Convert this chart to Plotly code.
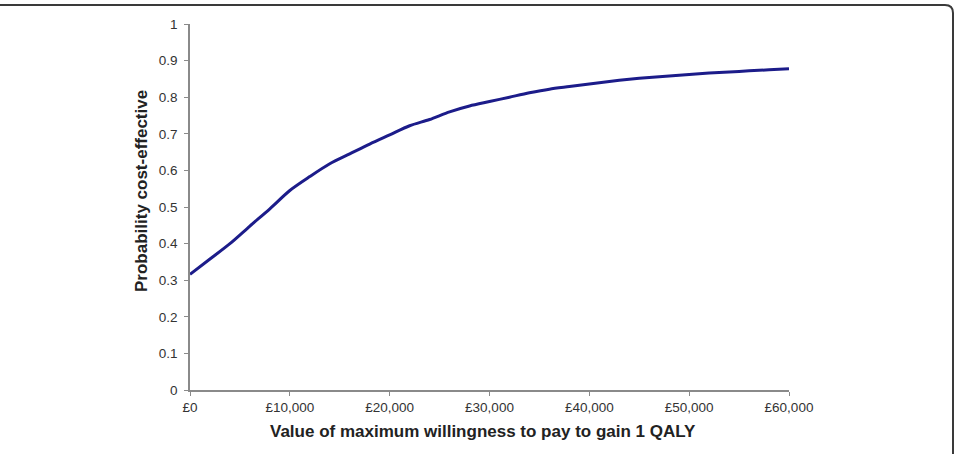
import plotly.graph_objects as go

# Data
wtp = [0, 2000, 4000, 6000, 8000, 10000, 12000, 14000, 16000, 18000, 20000,
       22000, 24000, 26000, 28000, 30000, 32000, 34000, 36000, 38000, 40000,
       42000, 44000, 46000, 48000, 50000, 52000, 54000, 56000, 58000, 60000]
prob = [0.316, 0.358, 0.400, 0.448, 0.495, 0.545, 0.583, 0.618, 0.645, 0.672, 0.697,
        0.722, 0.739, 0.760, 0.776, 0.788, 0.800, 0.812, 0.822, 0.829, 0.836,
        0.843, 0.849, 0.854, 0.858, 0.862, 0.866, 0.869, 0.872, 0.875, 0.878]

x_tickvals = [0, 10000, 20000, 30000, 40000, 50000, 60000]
x_ticktext = ["£0", "£10,000", "£20,000", "£30,000", "£40,000", "£50,000", "£60,000"]
y_tickvals = [0, 0.1, 0.2, 0.3, 0.4, 0.5, 0.6, 0.7, 0.8, 0.9, 1]
y_ticktext = ["0", "0.1", "0.2", "0.3", "0.4", "0.5", "0.6", "0.7", "0.8", "0.9", "1"]

x_title = "Value of maximum willingness to pay to gain 1 QALY"
y_title = "Probability cost-effective"

W, H = 957, 454
L, R, T, B = 190, 957 - 789, 24, 454 - 390
PW, PH = W - L - R, H - T - B


def px(x):
    return (x - L) / PW


def py(y):
    return (H - B - y) / PH


fig = go.Figure()
fig.add_trace(go.Scatter(x=wtp, y=prob, mode="lines",
                         line=dict(color="#1c1c8a", width=3, shape="spline", smoothing=0.8),
                         hoverinfo="skip", showlegend=False))

axis_common = dict(showgrid=False, zeroline=False, showline=True,
                   linecolor="#8a8a8a", linewidth=1.6, ticks="outside",
                   tickcolor="#8a8a8a", ticklen=4, tickwidth=1.2,
                   tickfont=dict(family="Liberation Sans, Arial", size=13.5, color="#333333"))

fig.update_layout(
    width=W, height=H,
    margin=dict(l=L, r=R, t=T, b=B),
    paper_bgcolor="white", plot_bgcolor="white",
    xaxis=dict(range=[0, 60000], tickvals=x_tickvals, ticktext=x_ticktext, **axis_common),
    yaxis=dict(range=[0, 1], tickvals=y_tickvals, ticktext=y_ticktext,
               ticklabelstandoff=4, **axis_common),
    annotations=[
        dict(text="<b>" + x_title + "</b>", xref="paper", yref="paper",
             x=px(483), y=py(431), showarrow=False, xanchor="center", yanchor="middle",
             font=dict(family="Liberation Sans, Arial", size=17, color="#222222")),
        dict(text="<b>" + y_title + "</b>", xref="paper", yref="paper",
             x=px(142), y=py(191), showarrow=False, xanchor="center", yanchor="middle",
             textangle=-90,
             font=dict(family="Liberation Sans, Arial", size=17, color="#222222")),
    ],
    shapes=[
        dict(type="path", xref="paper", yref="paper",
             path=(f"M {px(0)},{py(5)} L {px(945)},{py(5)} "
                   f"Q {px(953)},{py(5)} {px(953)},{py(13)} L {px(953)},{py(454)}"),
             line=dict(color="#3a3a3a", width=2)),
    ],
)

fig.write_html("out.html")
